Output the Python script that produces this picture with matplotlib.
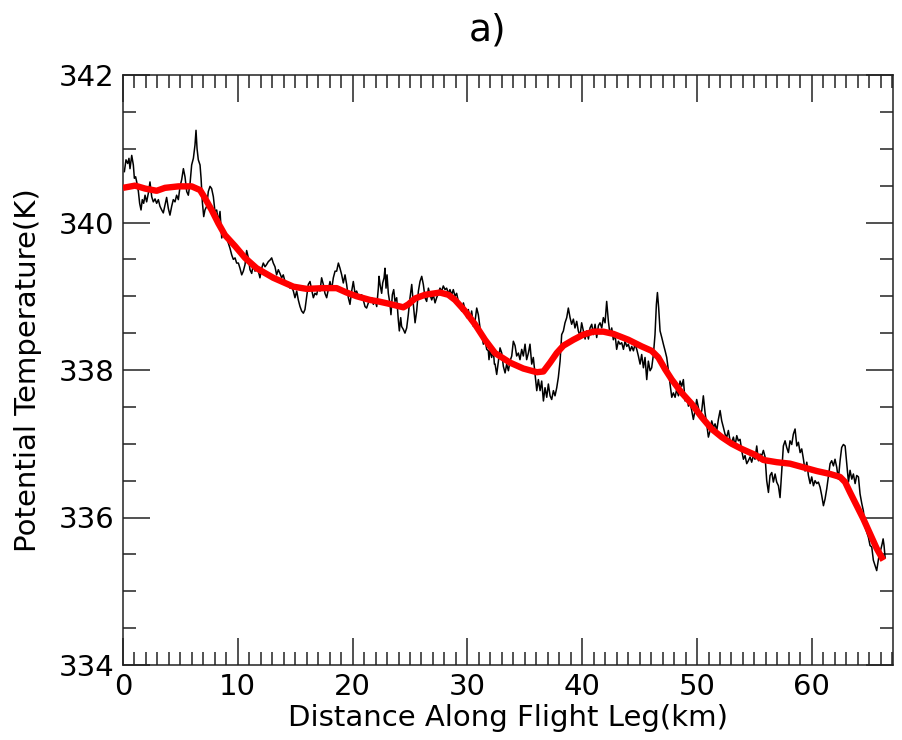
import matplotlib
matplotlib.use("Agg")
import matplotlib.pyplot as plt
from matplotlib.ticker import MultipleLocator

# Aircraft potential temperature along the flight leg (raw trace)
trace_km = [
    0.12, 0.26, 0.41, 0.52, 0.61, 0.76, 0.90, 0.99, 1.10, 1.22, 1.34, 1.45, 1.57, 1.68, 1.80,
    1.92, 2.06, 2.21, 2.35, 2.50, 2.64, 2.79, 2.93, 3.08, 3.22, 3.37, 3.51, 3.66, 3.80, 3.95,
    4.09, 4.24, 4.38, 4.53, 4.67, 4.82, 4.97, 5.11, 5.26, 5.40, 5.55, 5.69, 5.84, 5.98, 6.13,
    6.27, 6.36, 6.45, 6.56, 6.71, 6.80, 6.91, 7.03, 7.14, 7.29, 7.43, 7.58, 7.72, 7.87, 8.01,
    8.16, 8.30, 8.45, 8.60, 8.74, 8.89, 9.03, 9.18, 9.32, 9.47, 9.61, 9.76, 9.90, 10.05, 10.19,
    10.34, 10.48, 10.63,
    10.77, 10.92, 11.06, 11.21, 11.35, 11.50, 11.64, 11.79, 11.93, 12.08, 12.22, 12.37, 12.51,
    12.66, 12.80, 12.95, 13.09, 13.24, 13.38, 13.53, 13.67, 13.82, 13.96, 14.11, 14.26, 14.40,
    14.55, 14.69, 14.84, 14.98, 15.13, 15.27, 15.42, 15.56, 15.71, 15.85, 16.00, 16.14, 16.29,
    16.43, 16.58, 16.72, 16.87, 17.01, 17.16, 17.30, 17.45, 17.59, 17.74, 17.88, 18.03, 18.17,
    18.32, 18.47, 18.61, 18.76, 18.90, 19.05, 19.19, 19.34, 19.48, 19.63, 19.77, 19.92, 20.06,
    20.21, 20.35, 20.50, 20.64, 20.79, 20.93, 21.08, 21.22, 21.37, 21.51,
    21.66, 21.81, 21.95, 22.10, 22.24, 22.30, 22.39, 22.53, 22.62, 22.74, 22.82, 22.91, 23.00,
    23.11, 23.26, 23.34, 23.46, 23.58, 23.69, 23.84, 23.98, 24.07, 24.19, 24.27, 24.42, 24.56,
    24.71, 24.85, 25.00, 25.15, 25.29, 25.44, 25.58, 25.73, 25.87, 26.02, 26.16, 26.31, 26.45,
    26.60, 26.74, 26.89, 27.03, 27.18, 27.32, 27.47, 27.61, 27.76, 27.90, 28.05, 28.19, 28.34,
    28.48, 28.63, 28.77, 28.92, 29.06, 29.21, 29.36, 29.50, 29.65, 29.79, 29.94, 30.08, 30.23,
    30.37, 30.52, 30.66, 30.81, 30.95, 31.10, 31.24, 31.39, 31.53, 31.68, 31.82, 31.88, 31.97,
    32.11, 32.26, 32.35,
    32.41, 32.55, 32.70, 32.84, 32.99, 33.13, 33.28, 33.42, 33.57, 33.71, 33.86, 34.00, 34.15,
    34.29, 34.44, 34.58, 34.73, 34.87, 35.02, 35.16, 35.31, 35.45, 35.60, 35.74, 35.89, 36.04,
    36.18, 36.33, 36.47, 36.62, 36.76, 36.91, 37.05, 37.20, 37.34, 37.49, 37.63, 37.78, 37.92,
    38.07, 38.21, 38.36, 38.50, 38.65, 38.79, 38.94, 39.08, 39.23, 39.37, 39.52, 39.66, 39.81,
    39.95, 40.10, 40.25, 40.39, 40.54, 40.68, 40.83, 40.97, 41.12, 41.26, 41.41, 41.55, 41.70,
    41.84, 41.99, 42.13, 42.28, 42.42, 42.57, 42.71, 42.86, 43.00, 43.15, 43.29,
    43.44, 43.59, 43.73, 43.88, 44.02, 44.17, 44.31, 44.46, 44.60, 44.75, 44.89, 45.04, 45.18,
    45.33, 45.47, 45.62, 45.76, 45.91, 46.05, 46.20, 46.34, 46.46, 46.55, 46.66, 46.78, 46.93,
    47.07, 47.22, 47.36, 47.51, 47.65, 47.80, 47.94, 48.09, 48.23, 48.38, 48.52, 48.67, 48.81,
    48.96, 49.10, 49.25, 49.39, 49.54, 49.68, 49.83, 49.97, 50.12, 50.26, 50.41, 50.55, 50.70,
    50.84, 50.99, 51.14, 51.28, 51.43, 51.57, 51.72, 51.86, 52.01, 52.15, 52.30, 52.44, 52.59,
    52.73, 52.88, 53.02, 53.17, 53.31, 53.46, 53.60, 53.75, 53.89, 54.04, 54.18, 54.33, 54.47,
    54.62, 54.76, 54.91, 55.05,
    55.20, 55.35, 55.49, 55.64, 55.78, 55.93, 56.07, 56.22, 56.36, 56.51, 56.65, 56.80, 56.94,
    57.09, 57.23, 57.38, 57.52, 57.67, 57.81, 57.96, 58.10, 58.25, 58.39, 58.54, 58.69, 58.83,
    58.98, 59.12, 59.27, 59.41, 59.56, 59.70, 59.85, 59.99, 60.14, 60.28, 60.43, 60.57, 60.72,
    60.86, 61.01, 61.15, 61.30, 61.44, 61.59, 61.73, 61.88, 62.02, 62.17, 62.31, 62.46, 62.60,
    62.75, 62.90, 63.04, 63.19, 63.33, 63.48, 63.62, 63.77, 63.91, 64.06, 64.20, 64.35, 64.49,
    64.64, 64.78, 64.93, 65.07, 65.22, 65.36, 65.51, 65.65, 65.74, 65.83, 65.94, 66.03, 66.12,
    66.21, 66.29, 66.38,
]
trace_K = [
    340.69, 340.85, 340.80, 340.87, 340.73, 340.91, 340.78, 340.60, 340.62, 340.53, 340.42, 340.26, 340.17, 340.31, 340.26,
    340.37, 340.28, 340.40, 340.55, 340.35, 340.28, 340.32, 340.26, 340.31, 340.22, 340.17, 340.13, 340.24, 340.34, 340.19,
    340.10, 340.22, 340.31, 340.28, 340.37, 340.31, 340.49, 340.58, 340.73, 340.62, 340.42, 340.37, 340.53, 340.78, 340.87,
    341.05, 341.25, 341.00, 340.85, 340.78, 340.60, 340.28, 340.08, 340.17, 340.22, 340.42, 340.49, 340.46, 340.35, 340.15,
    340.17, 340.01, 340.15, 339.79, 339.88, 339.81, 339.79, 339.72, 339.65, 339.56, 339.50, 339.52, 339.45, 339.45, 339.38,
    339.29, 339.34, 339.43,
    339.62, 339.52, 339.36, 339.31, 339.43, 339.34, 339.40, 339.34, 339.25, 339.38, 339.45, 339.40, 339.43,
    339.47, 339.49, 339.52, 339.45, 339.40, 339.29, 339.36, 339.31, 339.25, 339.29, 339.20, 339.18, 339.16,
    339.11, 339.13, 339.07, 338.98, 339.07, 338.95, 338.86, 338.80, 338.77, 338.82, 339.00, 339.16, 339.20,
    339.09, 338.98, 339.04, 339.02, 339.13, 339.07, 339.25, 339.16, 339.04, 338.98, 339.09, 339.20, 339.09,
    339.25, 339.34, 339.34, 339.45, 339.38, 339.29, 339.18, 339.29, 339.16, 338.98, 338.89, 339.07, 339.20,
    339.04, 339.07, 339.00, 339.00, 339.02, 338.95, 338.86, 338.84, 338.91, 338.95,
    338.98, 338.89, 338.95, 338.86, 339.11, 339.27, 339.16, 339.04, 339.18, 339.25, 339.38, 339.11, 339.29,
    339.04, 338.89, 338.75, 339.02, 339.09, 338.93, 338.98, 338.68, 338.53, 338.71, 338.59, 338.55, 338.50,
    338.57, 338.75, 338.98, 339.16, 338.89, 338.64, 338.80, 339.07, 339.20, 339.27, 339.16, 338.98, 338.93,
    339.11, 339.02, 338.95, 339.02, 338.91, 338.98, 339.04, 339.11, 339.07, 339.14, 339.09, 339.11, 339.04,
    339.09, 339.02, 339.09, 339.00, 339.04, 338.93, 338.86, 338.80, 338.91, 338.82, 338.71, 338.82, 338.66,
    338.80, 338.59, 338.66, 338.84, 338.75, 338.57, 338.48, 338.35, 338.41, 338.28, 338.26, 338.14, 338.28,
    338.17, 338.26, 338.08,
    338.08, 337.94, 338.12, 338.30, 338.23, 338.05, 337.96, 338.08, 337.99, 338.12, 338.19, 338.39, 338.33,
    338.19, 338.23, 338.14, 338.28, 338.19, 338.35, 338.14, 338.23, 338.35, 338.08, 338.17, 337.94, 337.72,
    337.87, 337.72, 337.85, 337.58, 337.76, 337.63, 337.81, 337.65, 337.60, 337.72, 337.65, 337.76, 337.90,
    338.12, 338.48, 338.53, 338.64, 338.71, 338.84, 338.71, 338.62, 338.69, 338.57, 338.66, 338.53, 338.46,
    338.64, 338.53, 338.42, 338.53, 338.42, 338.57, 338.62, 338.48, 338.62, 338.44, 338.60, 338.64, 338.57,
    338.71, 338.64, 338.93, 338.66, 338.48, 338.57, 338.41, 338.48, 338.28, 338.39, 338.35,
    338.37, 338.28, 338.39, 338.32, 338.35, 338.26, 338.32, 338.26, 338.35, 338.28, 338.19, 338.08, 338.21,
    338.03, 338.17, 337.87, 338.12, 337.99, 338.03, 338.21, 338.48, 338.89, 339.05, 338.84, 338.53, 338.44,
    338.35, 338.26, 338.17, 337.99, 337.81, 337.63, 337.69, 337.63, 337.74, 337.65, 337.85, 337.78, 337.87,
    337.58, 337.65, 337.51, 337.56, 337.45, 337.33, 337.45, 337.60, 337.49, 337.36, 337.45, 337.65, 337.42,
    337.27, 337.09, 337.18, 337.31, 337.22, 337.27, 337.18, 337.33, 337.45, 337.31, 337.22, 337.13, 337.09,
    337.18, 337.04, 337.02, 337.09, 336.97, 337.11, 337.04, 337.06, 336.91, 336.79, 336.84, 336.73, 336.77,
    336.82, 336.75, 336.84, 336.79,
    336.97, 336.77, 336.86, 336.84, 336.91, 336.82, 336.50, 336.34, 336.57, 336.61, 336.48, 336.59, 336.48,
    336.43, 336.27, 336.63, 336.97, 337.04, 336.95, 336.88, 337.04, 336.99, 337.13, 337.20, 336.97, 337.02,
    336.88, 336.93, 336.79, 336.63, 336.75, 336.57, 336.46, 336.55, 336.43, 336.50, 336.46, 336.48, 336.41,
    336.30, 336.16, 336.25, 336.39, 336.55, 336.73, 336.77, 336.70, 336.79, 336.68, 336.52, 336.77, 336.95,
    336.99, 336.97, 336.73, 336.48, 336.64, 336.52, 336.59, 336.46, 336.57, 336.55, 336.32, 336.19, 336.09,
    335.87, 335.80, 335.73, 335.62, 335.60, 335.42, 335.35, 335.28, 335.37, 335.46, 335.53, 335.58, 335.64,
    335.71, 335.62, 335.46,
]

# Smoothed (low-pass) potential temperature
smooth_km = [
    0.0, 1.05, 1.92, 2.93, 3.66, 4.82, 5.98, 6.71, 7.14, 7.72, 8.30, 8.88, 9.76, 10.63,
    11.64, 13.09, 14.84, 16.00, 17.45, 18.61, 19.48, 20.35, 21.51, 22.24, 23.11, 24.42,
    24.85, 25.44, 26.31, 27.61, 28.34, 28.92, 29.79, 30.66, 31.53, 32.40, 33.71, 34.87,
    36.04, 36.62, 37.20, 37.78, 38.36, 39.23, 40.10, 40.97, 41.84, 42.71, 44.02, 45.18,
    46.05, 46.63, 47.22, 47.80, 48.67, 49.54, 50.41, 51.28, 52.15, 53.02, 53.89, 55.05,
    55.78, 56.94, 58.10, 59.27, 60.43, 61.59, 62.46, 62.90, 63.33, 63.91, 64.49, 65.07,
    65.65, 66.23,
]
smooth_K = [
    340.47, 340.50, 340.46, 340.43, 340.47, 340.49, 340.49, 340.44, 340.33, 340.17, 339.99, 339.83, 339.68, 339.52,
    339.38, 339.25, 339.13, 339.10, 339.11, 339.11, 339.05, 339.00, 338.95, 338.93, 338.90, 338.85,
    338.89, 338.97, 339.02, 339.05, 339.02, 338.95, 338.80, 338.62, 338.41, 338.23, 338.10, 338.02,
    337.97, 337.98, 338.10, 338.23, 338.33, 338.41, 338.48, 338.52, 338.52, 338.49, 338.41, 338.32,
    338.26, 338.17, 338.01, 337.87, 337.69, 337.54, 337.36, 337.20, 337.09, 337.00, 336.93, 336.85,
    336.78, 336.75, 336.73, 336.68, 336.63, 336.59, 336.55, 336.48, 336.34, 336.16, 335.98, 335.78,
    335.58, 335.42,
]

x_ticks = [0, 10, 20, 30, 40, 50, 60]
y_ticks = [334, 336, 338, 340, 342]

fig = plt.figure(figsize=(9.02, 7.40), dpi=100)
ax = fig.add_axes([123 / 902, 75 / 740, 770 / 902, 590 / 740])

ax.plot(trace_km, trace_K, color="black", lw=1.1, zorder=2)
ax.plot(smooth_km, smooth_K, color="#ff0000", lw=4.6, zorder=3,
        solid_capstyle="butt", solid_joinstyle="round")

ax.set_xlim(0, 67.07)
ax.set_ylim(334, 342)
ax.set_xticks(x_ticks)
ax.set_yticks(y_ticks)
ax.xaxis.set_minor_locator(MultipleLocator(1))
ax.yaxis.set_minor_locator(MultipleLocator(0.5))
ax.tick_params(which="both", direction="in", top=True, right=True,
               width=1.1, color="#222222", labelsize=21, pad=6)
ax.tick_params(which="major", length=19.5)
ax.tick_params(which="minor", length=9.5)
for sp in ax.spines.values():
    sp.set_linewidth(1.1)
    sp.set_color("#222222")

ax.set_xlabel("Distance Along Flight Leg(km)", fontsize=21, labelpad=2)
ax.set_ylabel("Potential Temperature(K)", fontsize=21, labelpad=12)
fig.text(488 / 902, 1 - 30 / 740, "a)", fontsize=27, ha="center", va="center")

fig.savefig("out.png", dpi=100)
